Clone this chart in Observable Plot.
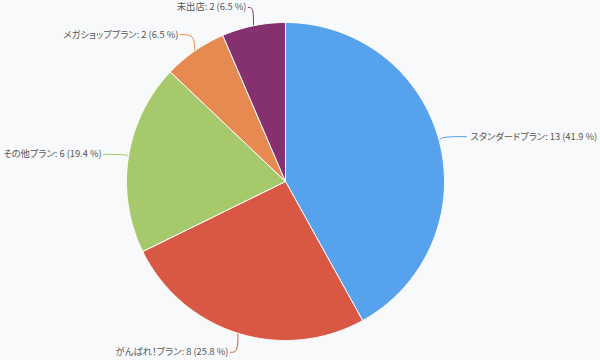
<!DOCTYPE html>
<html><head><meta charset="utf-8">
<script src="https://cdn.jsdelivr.net/npm/d3@7"></script>
<script src="https://cdn.jsdelivr.net/npm/@observablehq/plot@0.6"></script>
<style>
html,body{margin:0;padding:0;background:#f8f9fa;}
#chart{width:600px;height:360px;}
#chart text{font-feature-settings:"palt";}
</style></head>
<body><div id="chart"></div>
<script>
const categories = ["スタンダードプラン", "がんばれ！プラン", "その他プラン", "メガショッププラン", "未出店"];
const values = [13, 8, 6, 2, 2];
const percents = ["41.9", "25.8", "19.4", "6.5", "6.5"];
const colors = ["#57a2ec", "#d85843", "#a5c96b", "#e78a51", "#85306f"];

const W = 600, H = 360, R = 159, CX = 285, CY = 181;
const pie = d3.pie().sort(null).value(d => d.value)(categories.map((c, i) => ({name: c, value: values[i], pct: percents[i]})));

const pts = [];
pie.forEach(s => {
  pts.push({name: s.data.name, x: 0, y: 0});
  const n = Math.max(2, Math.ceil((s.endAngle - s.startAngle) / 0.01));
  for (let k = 0; k <= n; k++) {
    const a = s.startAngle + (s.endAngle - s.startAngle) * k / n;
    pts.push({name: s.data.name, x: Math.sin(a), y: Math.cos(a)});
  }
  pts.push({name: s.data.name, x: 0, y: 0});
});

const labels = [], conn = [];
pie.forEach(s => {
  const a = (s.startAngle + s.endAngle) / 2;
  const sx = Math.sin(a), cy = Math.cos(a);
  const right = sx >= 0;
  let lx = sx * (R + (right ? 28 : 25)) / R, ly = cy * (R + 20) / R;
  if (ly > (CY - 7) / R) ly = (CY - 7) / R;
  labels.push({name: s.data.name, x: lx, y: ly, right, text: `${s.data.name}: ${s.data.value} (${s.data.pct} %)`});
  conn.push({name: s.data.name, x: lx, y: ly});
  conn.push({name: s.data.name, x: sx, y: ly});
  conn.push({name: s.data.name, x: sx, y: cy});
});

const font = "'Noto Sans CJK JP', 'Noto Sans', sans-serif";
const chart = Plot.plot({
  width: W, height: H,
  margin: 0,
  style: {background: "#f8f9fa", fontFamily: font, overflow: "visible"},
  x: {domain: [-CX / R, (W - CX) / R], range: [0, W], axis: null},
  y: {domain: [-(H - CY) / R, CY / R], range: [H, 0], axis: null},
  color: {domain: categories, range: colors},
  marks: [
    Plot.line(conn, {x: "x", y: "y", z: "name", stroke: "name", strokeWidth: 1, curve: "basis"}),
    Plot.line(pts, {x: "x", y: "y", z: "name", fill: "name", stroke: "white", strokeWidth: 1, strokeLinejoin: "round"}),
    Plot.text(labels.filter(d => d.right), {x: "x", y: "y", text: "text", textAnchor: "start", dx: 4, fontSize: 9.3, fill: "#555"}),
    Plot.text(labels.filter(d => !d.right), {x: "x", y: "y", text: "text", textAnchor: "end", dx: -2, fontSize: 9.3, fill: "#555"})
  ]
});
document.getElementById("chart").appendChild(chart);
</script>
</body></html>
